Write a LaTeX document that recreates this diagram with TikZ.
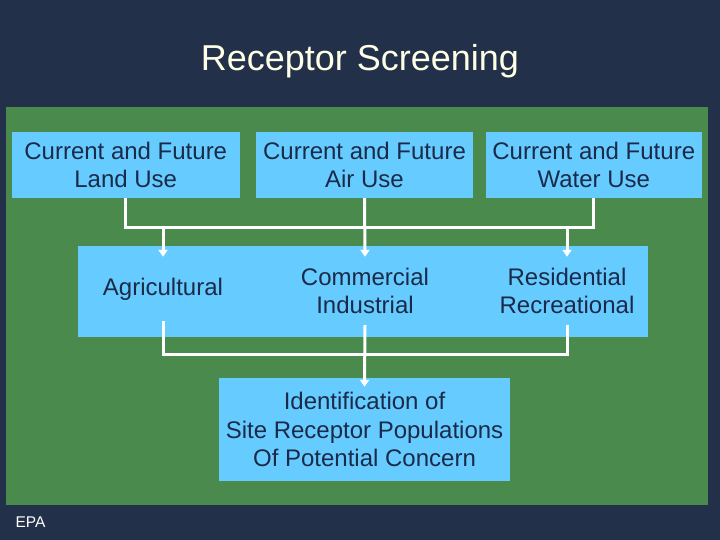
\documentclass[tikz,border=0pt]{standalone}
\usepackage{fontspec}
\setmainfont{Liberation Sans}
\usetikzlibrary{arrows.meta}
\definecolor{navybg}{HTML}{22304A}
\definecolor{fieldgreen}{HTML}{4A8A4C}
\definecolor{boxblue}{HTML}{66CCFF}
\definecolor{boxtext}{HTML}{1A2A48}
\definecolor{titlecream}{HTML}{FFFFE6}
\begin{document}
\begin{tikzpicture}[
x=1pt, y=-1pt,
usebox/.style={fill=boxblue, inner sep=0pt, align=center, text=boxtext, font=\fontsize{24}{28.5}\selectfont},
usetext/.style={inner sep=0pt, align=center, text=boxtext, font=\fontsize{24}{28.5}\selectfont, minimum width=150pt},
link/.style={white, line width=3pt},
arrow/.style={-{Triangle[width=9pt,length=7pt]}, white, line width=3pt}
]

\fill[navybg] (0,0) rectangle (720,540);
\fill[fieldgreen] (6,107) rectangle (708,505);

\node (title) at (360,61) [text=titlecream, font=\fontsize{36}{40}\selectfont] {Receptor Screening};
\node (epa) at (30.5,522) [text=white, font=\fontsize{15.5}{18}\selectfont] {EPA};

\node (land) at (125.75,165) [usebox, minimum width=228.5pt, minimum height=66pt] {Current and Future \\ Land Use};

\node (air) at (364.5,165) [usebox, minimum width=217pt, minimum height=66pt] {Current and Future \\ Air Use};

\node (water) at (593.75,165) [usebox, minimum width=215.5pt, minimum height=66pt] {Current and Future \\ Water Use};

\node (midbox) at (363,291.5) [usebox, minimum width=570pt, minimum height=91pt] {};

\node (agri) at (163,289) [usetext, minimum height=64pt] {Agricultural};

\node (comm) at (365,291) [usetext, minimum height=68pt] {Commercial \\ Industrial};

\node (resi) at (567,291) [usetext, minimum height=68pt] {Residential \\ Recreational};

\node (concern) at (364.5,429.5) [usebox, minimum width=291pt, minimum height=103pt] {Identification of \\ Site Receptor Populations \\ Of Potential Concern};

\coordinate (topbar) at (365,228);
\coordinate (lowbar) at (365,354);

\draw[link] (land.south) |- (topbar) -| (water.south);
\draw[arrow] (agri.north |- topbar) -- (agri.north);
\draw[arrow] (air.south) -- (comm.north);
\draw[arrow] (resi.north |- topbar) -- (resi.north);

\draw[link] (agri.south) |- (lowbar) -| (resi.south);
\draw[arrow] (comm.south) -- ([yshift=-9pt]concern.north);

\end{tikzpicture}
\end{document}
